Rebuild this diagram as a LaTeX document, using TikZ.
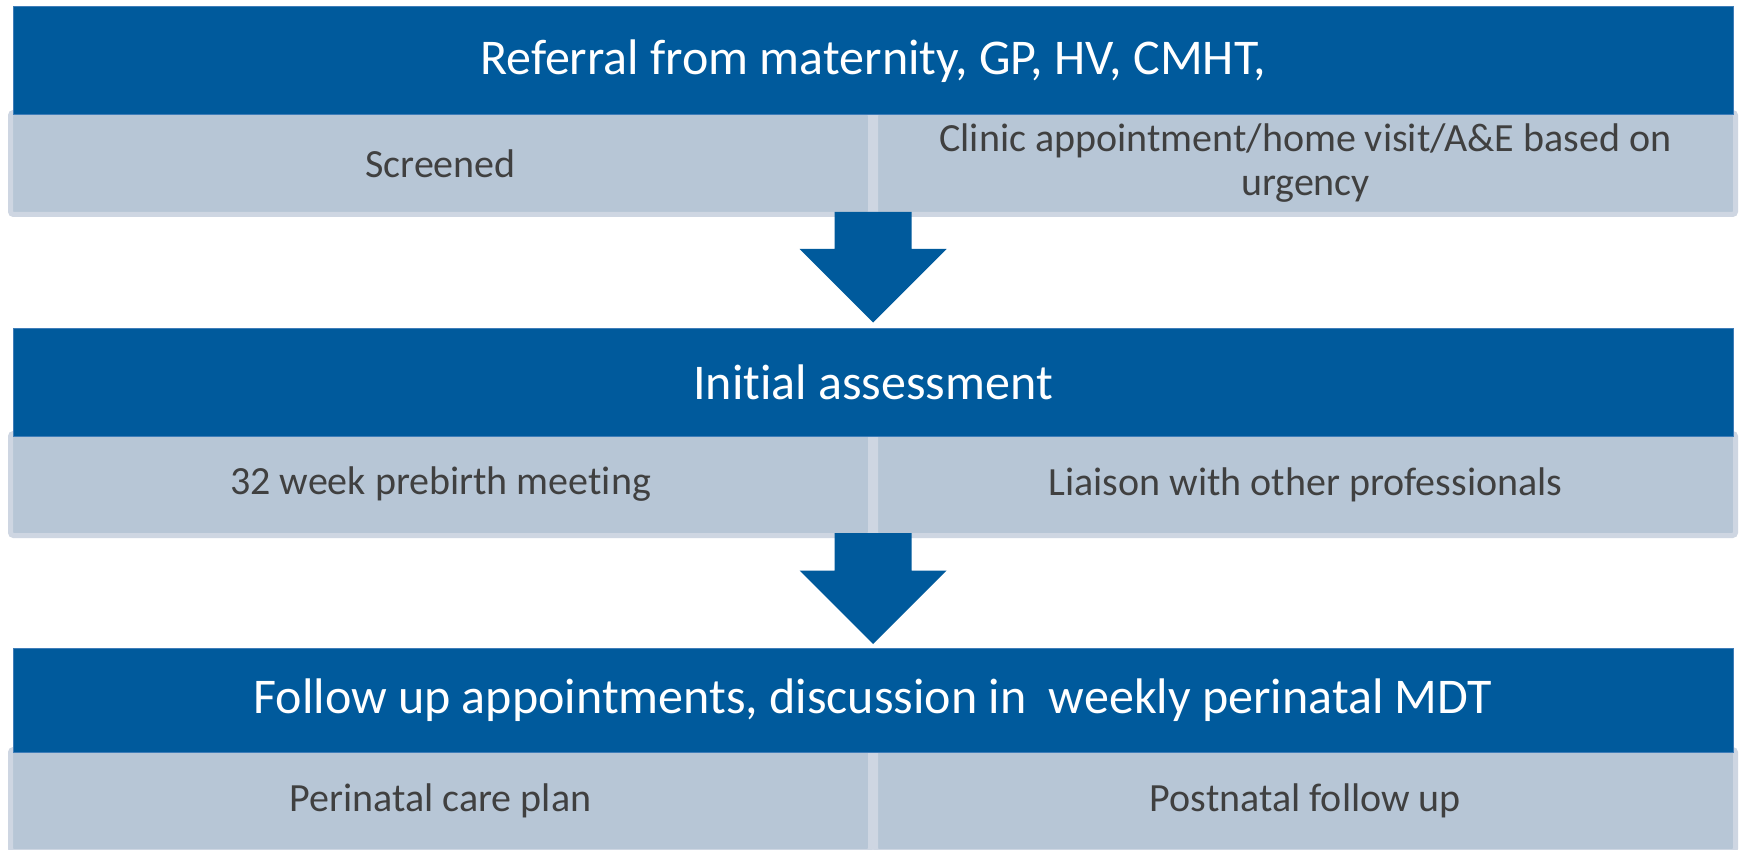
\documentclass[tikz,border=0pt]{standalone}
\usepackage{fontspec}
\setmainfont{Carlito}[Ligatures=NoCommon]
\usetikzlibrary{calc}
\definecolor{barblue}{HTML}{005A9C}
\definecolor{baredge}{HTML}{3F7DB8}
\definecolor{cellfill}{HTML}{B7C6D6}
\definecolor{cellhalo}{HTML}{CED6E2}
\definecolor{celltext}{HTML}{404040}
\begin{document}
\begin{tikzpicture}[x=1pt,y=-1pt,
  titlebar/.style={fill=barblue, draw=baredge, line width=1pt, minimum width=1720pt,
    inner sep=0pt, text=white, font=\fontsize{50}{60}\selectfont, anchor=north},
  cellbox/.style={fill=cellfill, draw=cellhalo, line width=5pt, rounded corners=3pt,
    minimum width=860pt, minimum height=102pt, inner sep=0pt, text=celltext,
    font=\fontsize{40}{44}\selectfont, align=center, anchor=north west},
  blockarrow/.style={fill=barblue}]
\useasboundingbox (0,0) rectangle (1739,850);
\clip (0,0) rectangle (1739,850);
\fill[white] (0,0) rectangle (1739,850);

% cells
\node[cellbox] (c1l) at (8,110) {Screened};
\node[cellbox] (c1r) at (873,110) {Clinic appointment/home visit/A\&E based on\\urgency};
\node[cellbox] (c2l) at (8,431) {32 week prebirth meeting};
\node[cellbox] (c2r) at (873,431) {Liaison with other professionals};
\node[cellbox] (c3l) at (8,747) {Perinatal care plan};
\node[cellbox] (c3r) at (873,747) {Postnatal follow up};

% title bars
\node[titlebar, minimum height=108pt] (t1) at (873,6.5) {Referral from maternity, GP, HV, CMHT,};
\node[titlebar, minimum height=108pt] (t2) at (873,327.5) {Init\kern0pt ial assessment};
\node[titlebar, minimum height=104pt] (t3) at (873,647.5) {Follow up appointments, discussion in~ weekly perinatal MDT};

% block arrows
\coordinate (a1s) at ($(c1l.south east)!0.5!(c1r.south west)+(0,-5)$);
\coordinate (a1t) at ($(t2.north)+(0,-5)$);
\coordinate (a2s) at ($(c2l.south east)!0.5!(c2r.south west)+(0,-5)$);
\coordinate (a2t) at ($(t3.north)+(0,-3.5)$);
\foreach \s/\t in {a1s/a1t, a2s/a2t}{
  \path[blockarrow] let \p1=(\s), \p2=(\t) in
    (\x1-38.5pt,\y1) -- (\x1+38.5pt,\y1) -- (\x1+38.5pt,\y2+73.5pt)
    -- (\x1+73.5pt,\y2+73.5pt) -- (\x1,\y2) -- (\x1-73.5pt,\y2+73.5pt)
    -- (\x1-38.5pt,\y2+73.5pt) -- cycle;
}
\end{tikzpicture}
\end{document}
